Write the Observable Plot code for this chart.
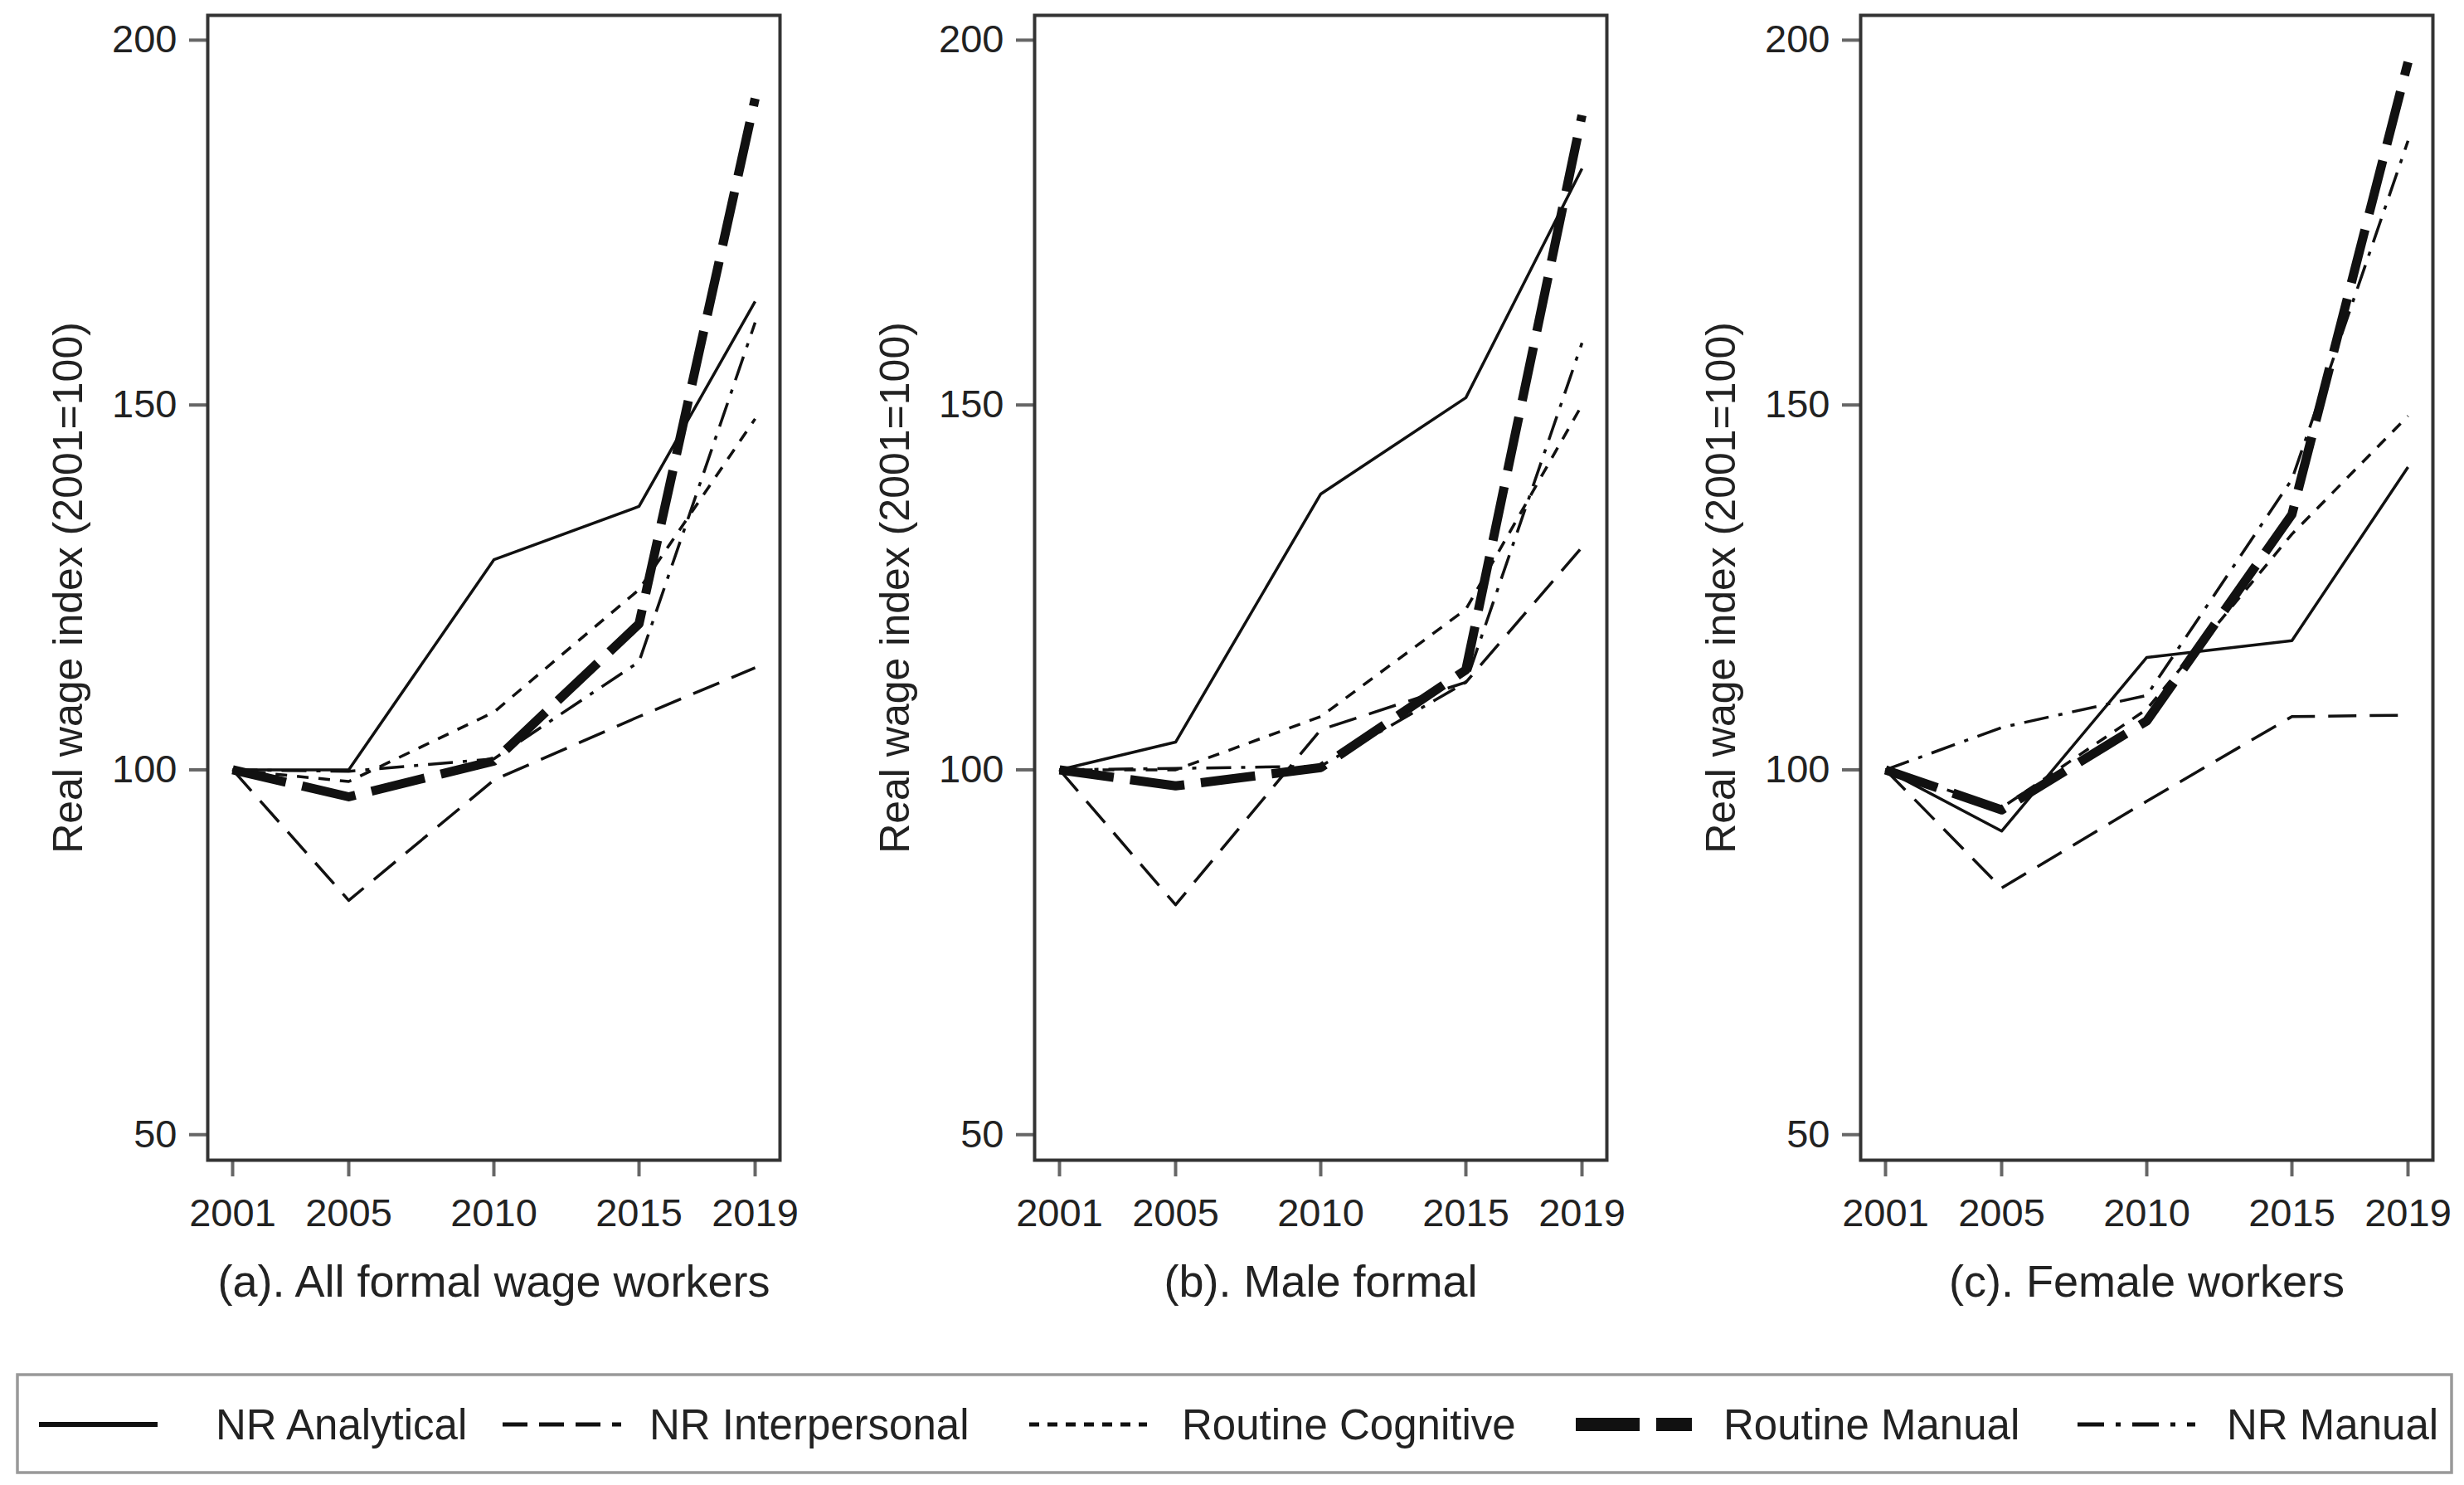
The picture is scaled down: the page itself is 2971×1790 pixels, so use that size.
<!DOCTYPE html>
<html>
<head>
<meta charset="utf-8">
<script src="https://cdn.jsdelivr.net/npm/d3@7"></script>
<script src="https://cdn.jsdelivr.net/npm/@observablehq/plot@0.6"></script>
<style>
  html, body { margin: 0; padding: 0; background: #fff; }
  body { width: 2971px; height: 1790px; position: relative; overflow: hidden;
         font-family: "Liberation Sans", Arial, Helvetica, sans-serif; }
  .panel { position: absolute; top: 0; width: 997px; height: 1600px; }
  .panel svg { max-width: none !important; }
  #legend { position: absolute; left: 0; top: 1640px; }
</style>
</head>
<body>
<div id="pa" class="panel" style="left:0px"></div>
<div id="pb" class="panel" style="left:997px"></div>
<div id="pc" class="panel" style="left:1993px"></div>
<div id="legend"></div>
<script>
// ---------- data ----------
const years = [2001, 2005, 2010, 2015, 2019];
const seriesNames = ["NR Analytical", "NR Interpersonal", "Routine Cognitive", "Routine Manual", "NR Manual"];
const yTicks = [50, 100, 150, 200];
const yLabel = "Real wage index (2001=100)";
const panelTitles = ["(a). All formal wage workers", "(b). Male formal", "(c). Female workers"];

// (a) All formal wage workers
const allNRAnalytical     = [100, 100.0, 128.8, 136.1, 164.2];
const allNRInterpersonal  = [100, 82.1, 98.6, 107.3, 114.0];
const allRoutineCognitive = [100, 98.4, 107.9, 124.7, 148.1];
const allRoutineManual    = [100, 96.3, 101.2, 120.0, 192.0];
const allNRManual         = [100, 99.8, 101.5, 114.8, 161.3];

// (b) Male formal
const maleNRAnalytical     = [100, 103.8, 137.8, 151.0, 182.4];
const maleNRInterpersonal  = [100, 81.5, 105.5, 112.0, 130.5];
const maleRoutineCognitive = [100, 100.0, 107.3, 122.0, 150.0];
const maleRoutineManual    = [100, 97.8, 100.3, 113.7, 189.7];
const maleNRManual         = [100, 100.2, 100.5, 112.0, 158.5];

// (c) Female workers
const femNRAnalytical     = [100, 91.6, 115.4, 117.7, 141.5];
const femNRInterpersonal  = [100, 83.8, 95.7, 107.3, 107.5];
const femRoutineCognitive = [100, 94.8, 108.3, 132.3, 148.5];
const femRoutineManual    = [100, 94.5, 106.7, 135.0, 197.0];
const femNRManual         = [100, 105.8, 110.2, 139.8, 186.2];

// ---------- styles ----------
const lineStyles = {
  "NR Analytical":     {strokeWidth: 3.5, dash: null},
  "NR Interpersonal":  {strokeWidth: 3.5, dash: "34,16"},
  "Routine Cognitive": {strokeWidth: 3.5, dash: "14,12"},
  "Routine Manual":    {strokeWidth: 11,  dash: "66,20"},
  "NR Manual":         {strokeWidth: 3.5, dash: "30,12,5,12"}
};
const legendStyles = {
  "NR Analytical":     {strokeWidth: 6, dash: null},
  "NR Interpersonal":  {strokeWidth: 5, dash: "30,14"},
  "Routine Cognitive": {strokeWidth: 5, dash: "12,10"},
  "Routine Manual":    {strokeWidth: 16, dash: "77,20"},
  "NR Manual":         {strokeWidth: 5, dash: "32,14,6,14"}
};
const font = "Liberation Sans, Arial, Helvetica, sans-serif";
const ink = "#222";

const panels = [
  {id: "#pa", title: panelTitles[0], values: [allNRAnalytical, allNRInterpersonal, allRoutineCognitive, allRoutineManual, allNRManual]},
  {id: "#pb", title: panelTitles[1], values: [maleNRAnalytical, maleNRInterpersonal, maleRoutineCognitive, maleRoutineManual, maleNRManual]},
  {id: "#pc", title: panelTitles[2], values: [femNRAnalytical, femNRInterpersonal, femRoutineCognitive, femRoutineManual, femNRManual]}
];

function drawPanel(p) {
  const rows = [];
  seriesNames.forEach((s, i) => years.forEach((yr, j) => rows.push({series: s, year: yr, value: p.values[i][j]})));
  const lineMarks = seriesNames.map(s => Plot.line(rows.filter(r => r.series === s), {
    x: "year", y: "value", stroke: "#111",
    strokeWidth: lineStyles[s].strokeWidth,
    strokeDasharray: lineStyles[s].dash,
    strokeLinecap: "butt", strokeLinejoin: "round"
  }));
  const chart = Plot.plot({
    width: 997, height: 1600,
    marginLeft: 250, marginRight: 57, marginTop: 18, marginBottom: 202,
    style: {fontFamily: font, background: "white", overflow: "visible", maxWidth: "none"},
    x: {domain: [2000.143, 2019.857]},
    y: {domain: [46.5, 203.4]},
    marks: [
      Plot.axisY({ticks: yTicks, tickSize: 22, tickPadding: 15, fontSize: 47, label: null,
                  stroke: "#666", strokeWidth: 4, fill: ink}),
      Plot.axisX({ticks: years, tickFormat: d => String(d), tickSize: 20, tickPadding: 26, fontSize: 47, label: null,
                  stroke: "#666", strokeWidth: 4, fill: ink}),
      ...lineMarks,
      Plot.frame({stroke: "#333", strokeWidth: 4}),
      Plot.text([yLabel], {text: d => d, frameAnchor: "left", textAnchor: "middle", rotate: -90, dx: -168,
                           lineAnchor: "middle", fontSize: 50, fill: ink}),
      Plot.text([p.title], {text: d => d, frameAnchor: "bottom", textAnchor: "middle", dy: 164, lineAnchor: "bottom",
                            fontSize: 54, fill: ink})
    ]
  });
  document.querySelector(p.id).append(chart);
}
panels.forEach(drawPanel);

// ---------- legend ----------
const legendLineX = [[47, 190], [606, 749], [1241, 1383], [1900, 2040], [2505, 2647]];
const legendTextX = [260, 783, 1425, 2078, 2685];
const svg = d3.select("#legend").append("svg")
  .attr("width", 2971).attr("height", 150)
  .style("font-family", font);
svg.append("rect").attr("x", 21).attr("y", 17).attr("width", 2935).attr("height", 118)
  .attr("fill", "white").attr("stroke", "#999").attr("stroke-width", 3.5);
seriesNames.forEach((s, i) => {
  svg.append("line")
    .attr("x1", legendLineX[i][0]).attr("x2", legendLineX[i][1])
    .attr("y1", 77).attr("y2", 77)
    .attr("stroke", "#111").attr("stroke-width", legendStyles[s].strokeWidth)
    .attr("stroke-dasharray", legendStyles[s].dash);
  svg.append("text").attr("x", legendTextX[i]).attr("y", 95)
    .attr("font-size", 51).attr("fill", ink).text(s);
});
</script>
</body>
</html>
